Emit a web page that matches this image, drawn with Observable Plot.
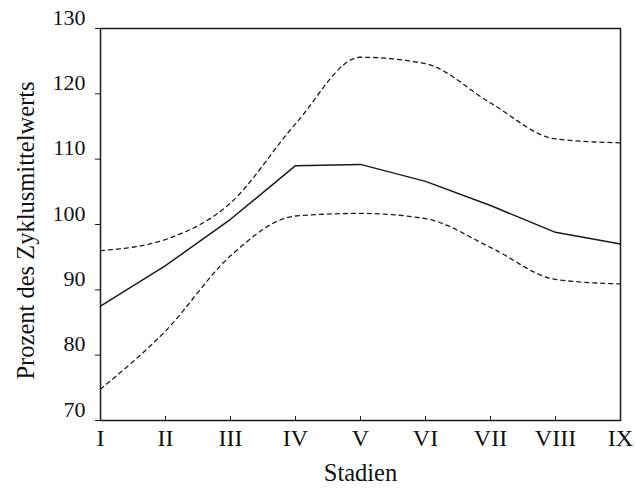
<!DOCTYPE html>
<html>
<head>
<meta charset="utf-8">
<script src="https://cdn.jsdelivr.net/npm/d3@7"></script>
<script src="https://cdn.jsdelivr.net/npm/@observablehq/plot@0.6"></script>
<style>
  html, body { margin: 0; padding: 0; background: #fff; }
  #chart svg text { font-family: 'Liberation Serif', 'Times New Roman', serif; fill: #111; }
  #chart g[aria-label="y-axis tick label"] text { font-size: 22px; }
  #chart g[aria-label="x-axis tick label"] text { font-size: 24px; }
  #chart g[aria-label="y-axis label"] text,
  #chart g[aria-label="x-axis label"] text { font-size: 24.5px; }
</style>
</head>
<body>
<div id="chart"></div>
<script>
const stages = ["I", "II", "III", "IV", "V", "VI", "VII", "VIII", "IX"];
const mean  = [87.5, 93.7, 100.8, 109.0, 109.2, 106.6, 102.9, 98.8, 97.0];
const upper = [96.0, 97.7, 103.3, 115.4, 125.6, 124.6, 118.6, 113.1, 112.5];
const lower = [74.8, 83.7, 95.2, 101.3, 101.7, 100.9, 96.5, 91.6, 90.9];
const yTicks = [70, 80, 90, 100, 110, 120, 130];

const rows = (vals, series) => stages.map((s, i) => ({stage: s, value: vals[i], series}));
const meanData = rows(mean, "mean");
const upperData = rows(upper, "upper");
const lowerData = rows(lower, "lower");

const ink = "#1a1a1a";

const chart = Plot.plot({
  width: 635,
  height: 492,
  marginLeft: 100,
  marginRight: 15,
  marginTop: 28,
  marginBottom: 72,
  style: {fontFamily: "'Liberation Serif', 'Times New Roman', serif", fontSize: "22px", color: ink, background: "#fff"},
  x: {type: "point", domain: stages, padding: 0},
  y: {domain: [70, 130]},
  marks: [
    Plot.frame({stroke: ink, strokeWidth: 1.5}),
    Plot.axisY({ticks: yTicks, tickSize: 5, tickPadding: 10, tickFormat: d => String(d), label: null}),
    Plot.axisY({ticks: [], label: "Prozent des Zyklusmittelwerts", labelAnchor: "center", labelArrow: "none", labelOffset: 84}),
    Plot.axisX({tickSize: -4, tickPadding: 12,
      label: "Stadien", labelAnchor: "center", labelArrow: "none", labelOffset: 60}),
    Plot.line(upperData, {x: "stage", y: "value", stroke: ink, strokeWidth: 1.3, strokeDasharray: "4,4", curve: "monotone-x"}),
    Plot.line(lowerData, {x: "stage", y: "value", stroke: ink, strokeWidth: 1.3, strokeDasharray: "4,4", curve: "monotone-x"}),
    Plot.line(meanData, {x: "stage", y: "value", stroke: ink, strokeWidth: 1.5})
  ]
});
const shift = (sel, dx, dy) => d3.select(chart).selectAll(sel).attr("transform", function() {
  const t = this.getAttribute("transform") || "";
  return t + ` translate(${dx},${dy})`;
});
// y tick labels sit just above their ticks, as in the original
shift('g[aria-label="y-axis tick label"]', 0, -11);
shift('g[aria-label="y-axis label"]', 0, 6);
d3.select(chart).selectAll("text").attr("fill", "#111").attr("fill-opacity", 1);
document.getElementById("chart").appendChild(chart);
</script>
</body>
</html>
